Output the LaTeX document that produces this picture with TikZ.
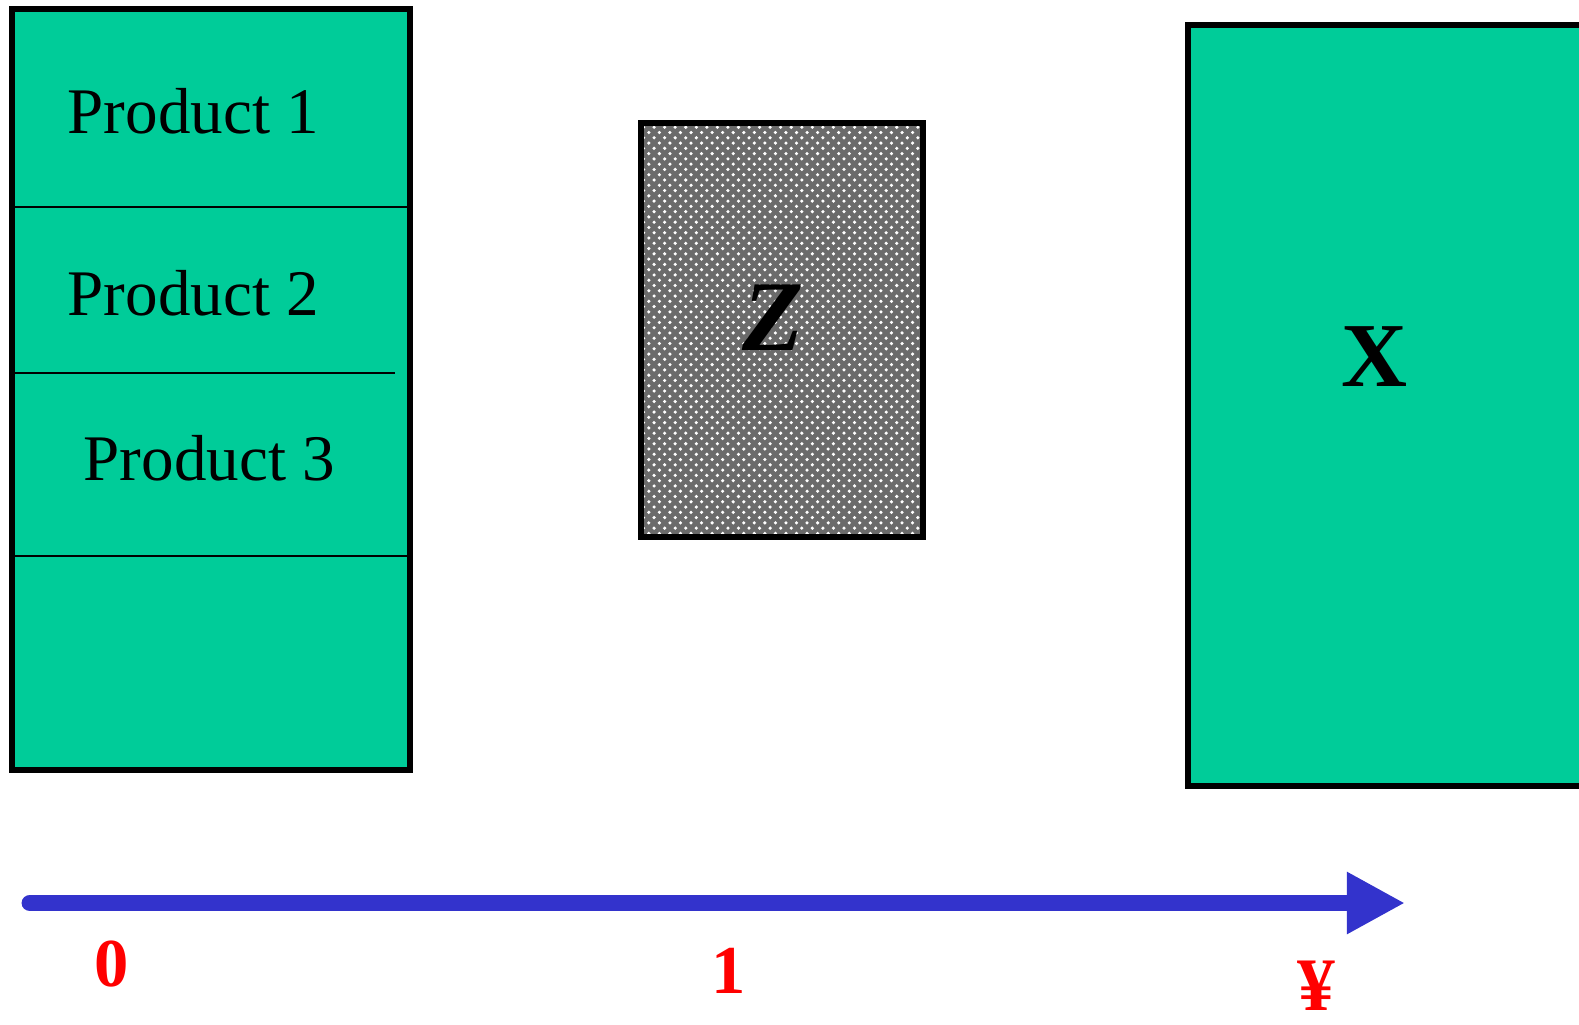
\documentclass[tikz,border=0pt]{standalone}
\usepackage{fontspec}
\setmainfont{Liberation Serif}
\usepackage{xcolor}
\usetikzlibrary{arrows.meta, positioning, patterns}
\definecolor{boxgreen}{RGB}{0,204,153}
\definecolor{axisblue}{RGB}{51,51,204}
\tikzset{
  stackbox/.style={
    rectangle,
    draw=black,
    fill=boxgreen,
    line width=1.7pt
  },
  divider/.style={
    line width=0.6pt
  },
  prodlabel/.style={
    anchor=base west,
    inner sep=0pt,
    font=\fontsize{18.5pt}{22pt}\selectfont
  },
  ticklabel/.style={
    inner sep=0pt,
    text=red,
    font=\fontsize{19.5pt}{22pt}\selectfont\bfseries
  },
  axis/.style={
    axisblue,
    line width=4.8pt,
    line cap=round,
    -{Triangle[length=0.58cm, width=0.58cm]}
  }
}

\begin{document}
\begin{tikzpicture}[x=0.01cm, y=-0.01cm,
  hatched/.style={fill=black!58, postaction={pattern=crosshatch dots, pattern color=white}}
]
  \useasboundingbox (0,0) rectangle (1579,1024);
  \clip (0,0) rectangle (1579,1024);

  % PRODUCT STACK
  \draw[stackbox] (12,9) rectangle (410,770);
  \draw[divider] (14,207) -- (408,207);
  \draw[divider] (14,373) -- (395,373);
  \draw[divider] (14,556) -- (408,556);
  \node (product1) [prodlabel] at (67,133) {Product 1};
  \node (product2) [prodlabel] at (67,315) {Product 2};
  \node (product3) [prodlabel] at (83,480) {Product 3};

  % Z BOX
  \fill[hatched] (641,123) rectangle (923,537);
  \draw[line width=1.7pt] (641,123) rectangle (923,537);
  \node (zlabel) [inner sep=0pt, font=\fontsize{28.5pt}{30pt}\selectfont\bfseries\itshape] at (773,318) {Z};

  % X BOX
  \draw[stackbox] (1188,25) rectangle (1640,786);
  \node (xlabel) [inner sep=0pt, font=\fontsize{26pt}{30pt}\selectfont\bfseries] at (1374,357) {X};

  % AXIS
  \coordinate (axisstart) at (30,903);
  \coordinate (axisend) at (1405,903);
  \draw[axis] (axisstart) -- (axisend);
  \node (tick0) [ticklabel] at (112,964) {0};
  \node (tick1) [ticklabel] at (729,971) {1};
  \node (tickyen) [ticklabel, font=\fontsize{21.5pt}{26pt}\selectfont\bfseries] at (1316,986) {¥};

\end{tikzpicture}
\end{document}
